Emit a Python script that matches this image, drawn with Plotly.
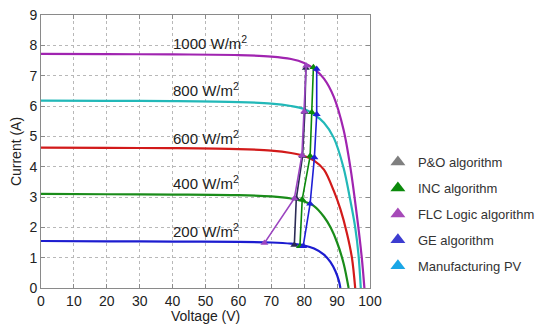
import plotly.graph_objects as go

# ---- I-V curves (voltage V, current A) ----
irr_labels = ["1000 W/m<sup>2</sup>", "800 W/m<sup>2</sup>", "600 W/m<sup>2</sup>",
              "400 W/m<sup>2</sup>", "200 W/m<sup>2</sup>"]
curve_colors = ["#a024b0", "#22b8b8", "#d21a1a", "#1a8c1a", "#1c1cd0"]

v1000 = [0, 20, 40, 60, 70, 76, 80, 83, 86, 89, 92, 94, 96, 97.5, 98.3]
i1000 = [7.72, 7.71, 7.70, 7.68, 7.63, 7.55, 7.42, 7.22, 6.90, 6.30, 5.20, 4.00, 2.40, 1.00, 0]
v800 = [0, 20, 40, 60, 70, 76, 80, 83, 86, 89, 92, 94, 95.5, 96.5, 97.2]
i800 = [6.18, 6.17, 6.16, 6.13, 6.08, 6.00, 5.90, 5.72, 5.45, 4.95, 3.95, 2.90, 2.00, 1.10, 0]
v600 = [0, 20, 40, 60, 70, 76, 80, 83, 86, 89, 91, 93, 94.5, 95.5]
i600 = [4.63, 4.62, 4.61, 4.58, 4.53, 4.45, 4.35, 4.20, 3.90, 3.20, 2.60, 1.80, 1.00, 0]
v400 = [0, 20, 40, 60, 70, 76, 80, 83, 86, 88, 90, 92, 93.5]
i400 = [3.10, 3.09, 3.08, 3.06, 3.02, 2.95, 2.85, 2.70, 2.35, 2.00, 1.50, 0.80, 0]
v200 = [0, 20, 40, 60, 70, 76, 80, 83, 86, 88, 89.5, 90.5, 91]
i200 = [1.55, 1.54, 1.53, 1.52, 1.50, 1.46, 1.40, 1.30, 1.10, 0.85, 0.55, 0.25, 0]

curves_v = [v1000, v800, v600, v400, v200]
curves_i = [i1000, i800, i600, i400, i200]
label_i = [8.1, 6.55, 4.95, 3.47, 1.88]

# ---- MPP tracking points (200 -> 1000 W/m2) ----
alg_names = ["P&O algorithm", "INC algorithm", "FLC Logic algorithm", "GE algorithm", "Manufacturing PV"]
alg_colors = ["#7f7f7f", "#0b8a0b", "#a64ab8", "#3c3cd0", "#1aa6e6"]
line_colors = ["#2b2b55", "#0b8a0b", "#9b45c0", "#1f1fd6"]

po_v = [77.0, 77.6, 79.5, 80.2, 80.5]
po_i = [1.42, 2.95, 4.35, 5.80, 7.25]
inc_v = [78.7, 79.4, 81.8, 82.3, 82.8]
inc_i = [1.38, 2.92, 4.35, 5.79, 7.28]
flc_v = [67.9, 77.0, 79.3, 80.0, 80.6]
flc_i = [1.48, 2.95, 4.38, 5.82, 7.33]
ge_v = [79.7, 81.8, 83.1, 83.8, 83.8]
ge_i = [1.38, 2.78, 4.30, 5.73, 7.22]

alg_v = [po_v, inc_v, flc_v, ge_v]
alg_i = [po_i, inc_i, flc_i, ge_i]

fig = go.Figure()

for v, i, c in zip(curves_v, curves_i, curve_colors):
    fig.add_trace(go.Scatter(x=v, y=i, mode="lines", showlegend=False,
                             line=dict(color=c, width=2.2, shape="spline", smoothing=0.9),
                             hoverinfo="skip"))

for v, i, lc, mc in zip(alg_v, alg_i, line_colors, alg_colors):
    fig.add_trace(go.Scatter(x=v, y=i, mode="lines+markers", showlegend=False,
                             line=dict(color=lc, width=1.6),
                             marker=dict(symbol="triangle-up", size=7, color=lc),
                             hoverinfo="skip"))

for k, (n, c) in enumerate(zip(alg_names, alg_colors)):
    fig.add_trace(go.Scatter(x=[None], y=[None], mode="markers", name=n,
                             legendgroup=str(k),
                             marker=dict(symbol="triangle-up", size=13, color=c)))

for txt, yi in zip(irr_labels, label_i):
    fig.add_annotation(x=39.6, y=yi, text=txt, showarrow=False, xanchor="left",
                       yanchor="middle", font=dict(size=15, color="#222222"))

# x-axis title as an annotation so it can sit closer to the tick labels
fig.add_annotation(x=0.5, y=0, xref="paper", yref="paper", text="Voltage (V)",
                   showarrow=False, xanchor="center", yanchor="top", yshift=-18,
                   font=dict(size=14, color="#222222"))

axis_common = dict(showgrid=True, gridcolor="#b8b8b8", griddash="dot", gridwidth=1,
                   zeroline=False, showline=True, linecolor="#8a8a8a", linewidth=1,
                   mirror="ticks", ticks="inside", ticklen=4, tickcolor="#8a8a8a",
                   automargin=False, tickfont=dict(size=14, color="#222222"))

fig.update_xaxes(range=[0, 100], dtick=10, **axis_common)
fig.update_yaxes(range=[0, 9], dtick=1, title=dict(text="Current (A)", standoff=4,
                 font=dict(size=14, color="#222222")), **axis_common)

fig.update_layout(
    width=540, height=326,
    margin=dict(l=41, r=170, t=15, b=38, autoexpand=False),
    paper_bgcolor="white", plot_bgcolor="white",
    font=dict(family="Liberation Sans, Arial, sans-serif", color="#222222"),
    showlegend=True,
    legend=dict(x=1.024, y=0.516, xanchor="left", yanchor="top",
                font=dict(size=13, color="#333333"), tracegroupgap=6,
                traceorder="grouped", itemwidth=30, bgcolor="rgba(0,0,0,0)"),
)

fig.write_html("out.html", config={"displayModeBar": False},
               post_script="document.body.style.margin='0';")
